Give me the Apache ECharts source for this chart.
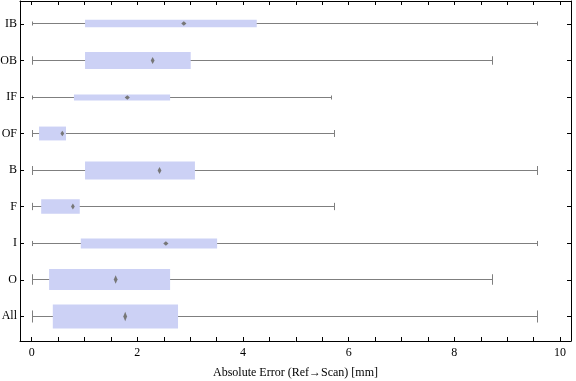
<!DOCTYPE html>
<html>
<head>
<meta charset="utf-8">
<script src="https://cdn.jsdelivr.net/npm/echarts@6/dist/echarts.min.js"></script>
<style>html,body{margin:0;padding:0;background:#fff;}#c{width:576px;height:381px;}</style>
</head>
<body>
<div id="c"></div>
<script>
// Categories bottom to top
var categories = ['All', 'O', 'I', 'F', 'B', 'OF', 'IF', 'OB', 'IB'];
var minVals    = [0,    0,    0,    0,    0,    0,    0,    0,    0];
var q1Vals     = [0.40, 0.33, 0.93, 0.18, 1.01, 0.14, 0.80, 1.01, 1.01];
var medianVals = [1.77, 1.59, 2.54, 0.78, 2.42, 0.58, 1.81, 2.29, 2.88];
var q3Vals     = [2.77, 2.62, 3.51, 0.91, 3.09, 0.65, 2.62, 3.01, 4.26];
var maxVals    = [9.59, 8.73, 9.59, 5.74, 9.59, 5.74, 5.69, 8.73, 9.59];
// relative box thickness (in category units)
var boxWidths  = [0.66, 0.575, 0.28, 0.40, 0.49, 0.38, 0.165, 0.465, 0.21];

var xTickValues = [0, 0.5, 1, 1.5, 2, 2.5, 3, 3.5, 4, 4.5, 5, 5.5, 6, 6.5, 7, 7.5, 8, 8.5, 9, 9.5, 10];
var xTickLabels = [0, 2, 4, 6, 8, 10];
var yTickValues = [0, 1, 2, 3, 4, 5, 6, 7, 8];

var data = categories.map(function (c, i) {
  return [i, minVals[i], q1Vals[i], medianVals[i], q3Vals[i], maxVals[i], boxWidths[i]];
});

var font = 'Liberation Serif, Times New Roman, serif';
var XMIN = -0.221, XMAX = 10.208, YMIN = -0.676, YMAX = 8.629;

var chart = echarts.init(document.getElementById('c'), null, {renderer: 'canvas'});

function renderItem(params, api) {
  var y = api.value(0);
  var pMin = api.coord([api.value(1), y]);
  var pQ1 = api.coord([api.value(2), y]);
  var pMed = api.coord([api.value(3), y]);
  var pQ3 = api.coord([api.value(4), y]);
  var pMax = api.coord([api.value(5), y]);
  var h = api.size([0, api.value(6)])[1];
  var cy = Math.round(pMin[1] - 0.5) + 0.5;
  var cap = Math.max(4, h / 2);
  var x0 = Math.round(pMin[0]) + 0.5, x1 = Math.round(pMax[0]) - 0.5;
  var lineStyle = {stroke: '#7f7f7f', lineWidth: 1, fill: null};
  var hh = Math.max(2.2, h * 0.2);
  var hw = h < 12 ? 2.6 : 1.9;
  return {
    type: 'group',
    children: [
      {type: 'line', shape: {x1: x0, y1: cy, x2: x1, y2: cy}, style: lineStyle},
      {type: 'line', shape: {x1: x0, y1: cy - cap / 2, x2: x0, y2: cy + cap / 2}, style: lineStyle},
      {type: 'line', shape: {x1: x1, y1: cy - cap / 2, x2: x1, y2: cy + cap / 2}, style: lineStyle},
      {type: 'rect', shape: {x: pQ1[0], y: cy - h / 2, width: pQ3[0] - pQ1[0], height: h}, style: {fill: '#ccd1f5'}},
      {type: 'polygon', shape: {points: [[pMed[0], cy - hh], [pMed[0] + hw, cy], [pMed[0], cy + hh], [pMed[0] - hw, cy]]}, style: {fill: '#777777'}}
    ]
  };
}

var axisLineStyle = {show: true, onZero: false, lineStyle: {color: '#000', width: 1}};
var option = {
  backgroundColor: '#fff',
  animation: false,
  grid: {left: 20, right: 5, top: 1, bottom: 40, containLabel: false, outerBoundsMode: 'none'},
  xAxis: [
    {
      type: 'value', position: 'bottom', min: XMIN, max: XMAX,
      axisLine: axisLineStyle,
      axisTick: {show: true, inside: true, length: 4, customValues: xTickValues, lineStyle: {color: '#000'}},
      axisLabel: {show: true, customValues: xTickLabels, color: '#000', fontFamily: font, fontSize: 12, margin: 6},
      splitLine: {show: false},
      name: 'Absolute Error (Ref\u2192Scan) [mm]', nameLocation: 'middle', nameGap: 26,
      nameTextStyle: {color: '#000', fontFamily: font, fontSize: 12}
    },
    {
      type: 'value', position: 'top', min: XMIN, max: XMAX,
      axisLine: axisLineStyle,
      axisTick: {show: true, inside: true, length: 4, customValues: xTickValues, lineStyle: {color: '#000'}},
      axisLabel: {show: false},
      splitLine: {show: false}
    }
  ],
  yAxis: [
    {
      type: 'value', position: 'left', min: YMIN, max: YMAX,
      axisLine: axisLineStyle,
      axisTick: {show: true, inside: true, length: 4, customValues: yTickValues, lineStyle: {color: '#000'}},
      axisLabel: {
        show: true, customValues: yTickValues, color: '#000', fontFamily: font, fontSize: 12, margin: 3,
        formatter: function (v) { return categories[Math.round(v)] || ''; }
      },
      splitLine: {show: false}
    },
    {
      type: 'value', position: 'right', min: YMIN, max: YMAX,
      axisLine: axisLineStyle,
      axisTick: {show: true, inside: true, length: 4, customValues: yTickValues, lineStyle: {color: '#000'}},
      axisLabel: {show: false},
      splitLine: {show: false}
    }
  ],
  series: [{
    type: 'custom',
    renderItem: renderItem,
    encode: {x: [1, 2, 3, 4, 5], y: 0},
    data: data,
    clip: false
  }]
};
chart.setOption(option);
</script>
</body>
</html>
